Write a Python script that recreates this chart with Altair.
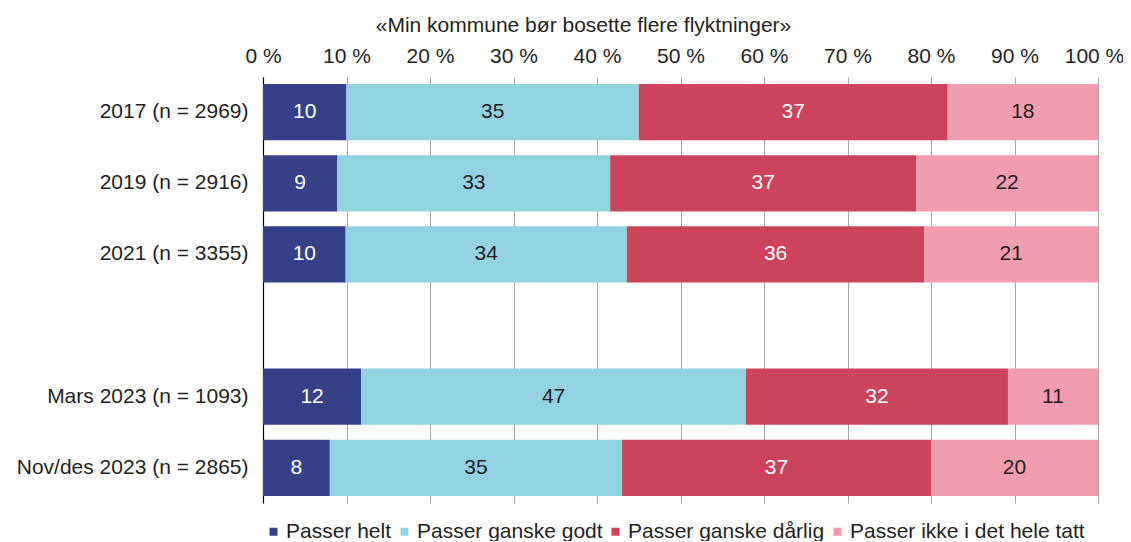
import altair as alt
import pandas as pd

rows = ["2017 (n = 2969)", "2019 (n = 2916)", "2021 (n = 3355)", " ",
        "Mars 2023 (n = 1093)", "Nov/des 2023 (n = 2865)"]
data_rows = ["2017 (n = 2969)", "2019 (n = 2916)", "2021 (n = 3355)",
             "Mars 2023 (n = 1093)", "Nov/des 2023 (n = 2865)"]
categories = ["Passer helt", "Passer ganske godt", "Passer ganske dårlig",
              "Passer ikke i det hele tatt"]
helt = [10, 9, 10, 12, 8]
godt = [35, 33, 34, 47, 35]
darlig = [37, 37, 36, 32, 37]
ikke = [18, 22, 21, 11, 20]
colors = ["#344189", "#93D2E0", "#CB4459", "#F29CAF"]
text_colors = ["#FFFFFF", "#231F20", "#FFFFFF", "#231F20"]
ticks = [0, 0.1, 0.2, 0.3, 0.4, 0.5, 0.6, 0.7, 0.8, 0.9, 1.0]

records = []
for i, r in enumerate(data_rows):
    for j, (cat, vals) in enumerate(zip(categories, [helt, godt, darlig, ikke])):
        records.append({"row": r, "cat": cat, "order": j, "value": vals[i],
                        "tc": text_colors[j]})
df = pd.DataFrame(records)

FONT = "Liberation Sans"
TXT = "#231F20"
FS = 21

base = alt.Chart(df).transform_stack(
    stack="value", groupby=["row"], as_=["x0", "x1"], offset="normalize",
    sort=[alt.SortField("order", order="ascending")]
).transform_calculate(mid="(datum.x0 + datum.x1) / 2")

y = alt.Y("row:N", scale=alt.Scale(domain=rows, paddingInner=0.21, paddingOuter=0.1),
          axis=alt.Axis(title=None, domain=True, domainColor="#000000", domainWidth=1.2,
                        ticks=False, labelPadding=15, labelFontSize=FS, labelFont=FONT,
                        labelColor=TXT, grid=False, labelLimit=0))

bars = base.mark_bar(stroke=None).encode(
    x=alt.X("x0:Q", scale=alt.Scale(domain=[0, 1], nice=False),
            axis=alt.Axis(orient="top", values=ticks,
                          labelExpr="format(datum.value * 100, 'd') + ' %'",
                          title="«Min kommune bør bosette flere flyktninger»",
                          titleX=320, titleY=-46, titleAlign="center",
                          titleBaseline="alphabetic", titleFontSize=FS,
                          titleFontWeight="normal", titleFont=FONT, titleColor=TXT,
                          labelFontSize=FS, labelFont=FONT, labelColor=TXT,
                          labelBaseline="alphabetic",
                          labelOffset={"condition": {"test": "datum.value >= 1", "value": -4},
                                       "value": 0},
                          labelPadding=15, ticks=False, tickSize=0, domain=False,
                          grid=True, gridColor="#A6A6A6", gridWidth=1,
                          labelFlush=False)),
    x2="x1:Q",
    y=y,
    color=alt.Color("cat:N", scale=alt.Scale(domain=categories, range=colors),
                    legend=alt.Legend(title=None, orient="none", legendX=0, legendY=444,
                                      direction="horizontal", symbolType="square",
                                      symbolSize=64, symbolStrokeWidth=0, padding=0,
                                      labelFontSize=FS, labelFont=FONT, labelColor=TXT,
                                      labelOffset=2, columnPadding=2, labelLimit=0)),
)

labels = base.mark_text(fontSize=FS, font=FONT, baseline="middle", align="center").encode(
    x=alt.X("mid:Q"),
    y=alt.Y("row:N", scale=alt.Scale(domain=rows)),
    text=alt.Text("value:Q"),
    color=alt.Color("tc:N", scale=None),
)

chart = alt.layer(bars, labels).properties(
    width=835, height=426,
    autosize=alt.AutoSizeParams(type="none"),
    padding={"left": 255, "top": 69, "right": 25, "bottom": 38},
).configure_view(stroke=None)

chart.save("out.html", embed_options={"renderer": "svg", "actions": False})
